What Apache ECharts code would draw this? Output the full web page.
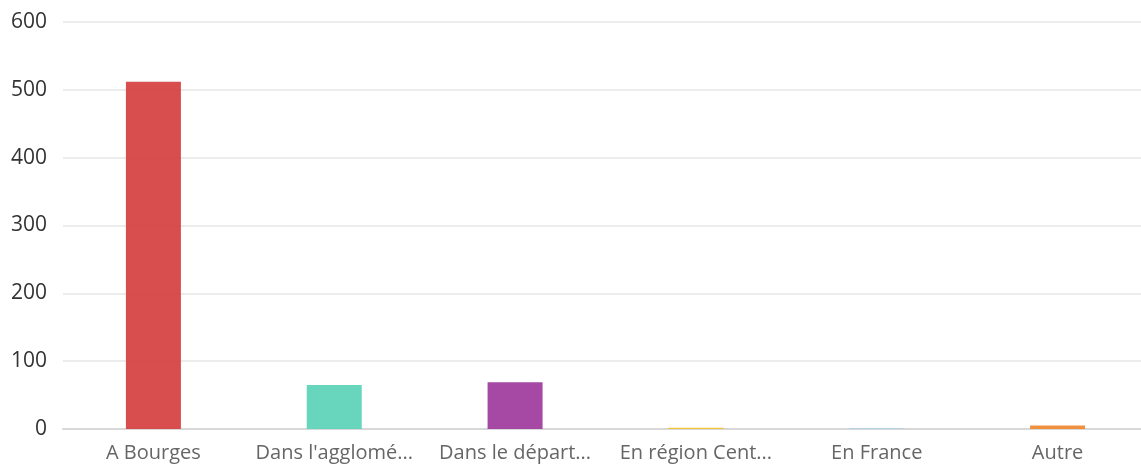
<!DOCTYPE html>
<html><head><meta charset="utf-8">
<script src="https://cdn.jsdelivr.net/npm/echarts@6/dist/echarts.min.js"></script>
<style>html,body{margin:0;padding:0;background:#fff;overflow:hidden}#c{width:1148px;height:470px}</style>
</head><body><div id="c"></div>
<script>
const labels = ["A Bourges", "Dans l'agglomé...", "Dans le départ...", "En région Cent...", "En France", "Autre"];
const values = [512, 65, 69, 2, 1, 5];
const colors = ["#d64545", "#5fd4b8", "#a03fa0", "#f2c230", "#a6cfe0", "#f08a35"];
const yTicks = [0, 100, 200, 300, 400, 500, 600];

const chart = echarts.init(document.getElementById('c'));
chart.setOption({
  animation: false,
  grid: {left: 63, right: 0, top: 22, bottom: 41, containLabel: false},
  xAxis: {
    type: 'category', data: labels,
    axisLine: {lineStyle: {color: '#d8d8d8', width: 2}},
    axisTick: {alignWithLabel: true, length: 4, lineStyle: {color: '#888'}},
    axisLabel: {color: '#666', fontSize: 20, fontFamily: 'Open Sans', margin: 14, interval: 0}
  },
  yAxis: {
    type: 'value', min: yTicks[0], max: yTicks[yTicks.length - 1], interval: 100,
    axisLine: {show: false}, axisTick: {show: false},
    splitLine: {lineStyle: {color: '#e6e6e6', width: 1.5}},
    axisLabel: {color: '#333', fontSize: 21, fontFamily: 'Open Sans', margin: 16}
  },
  series: [{
    type: 'bar', barWidth: 55,
    data: values.map((v, i) => ({value: v, itemStyle: {color: colors[i], opacity: 0.95}}))
  }]
});
</script></body></html>
